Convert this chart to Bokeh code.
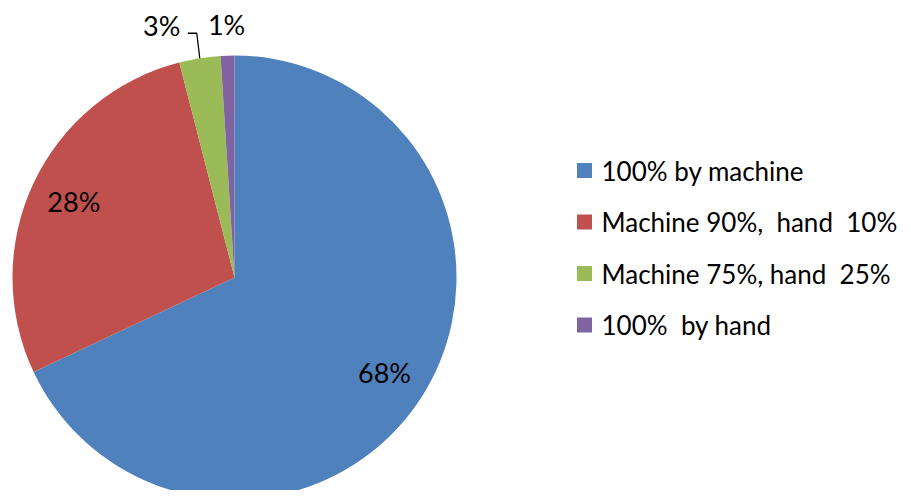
import numpy as np
from bokeh.plotting import figure
from bokeh.models import ColumnDataSource
from bokeh.core.properties import value
from bokeh.embed import file_html
from bokeh.resources import INLINE

categories = ["100% by machine", "Machine 90%,  hand  10%", "Machine 75%, hand  25%", "100%  by hand"]
shares = [68, 28, 3, 1]
labels = ["68%", "28%", "3%", "1%"]
colors = ["#4F81BD", "#C0504D", "#9BBB59", "#8064A2"]

FONT = "Lato"
FS_LEG = "26px"
FS_LAB = "27px"

W, H = 903, 490
# data coordinates: x = page x, y = 498 - page y (picture starts at figure origin)
p = figure(width=W, height=H, x_range=(0, W), y_range=(498 - H, 498),
           output_backend="svg", toolbar_location=None, min_border=0)
p.axis.visible = False
p.grid.visible = False
p.outline_line_color = None
p.background_fill_color = "white"
p.border_fill_color = "white"

cx, cy, r = 234, 498 - 277, 222
frac = np.array(shares, dtype=float) / sum(shares)
cum = np.concatenate([[0], np.cumsum(frac)])
start = np.pi / 2 - cum[:-1] * 2 * np.pi
end = np.pi / 2 - cum[1:] * 2 * np.pi
mid = (start + end) / 2

src = ColumnDataSource(dict(start=start, end=end, color=colors, cat=categories))
p.wedge(x=cx, y=cy, radius=r, start_angle="start", end_angle="end", direction="clock",
        fill_color="color", line_color=None, source=src)

# inside labels for large slices
inside = [0, 1]
p.text(x=[cx + 0.8 * r * np.cos(mid[i]) for i in inside],
       y=[cy + 0.8 * r * np.sin(mid[i]) for i in inside],
       text=[labels[i] for i in inside], text_align="center", text_baseline="middle",
       text_font=value(FONT), text_font_size=FS_LAB, text_color="black")

# outside labels for small slices
g = 2
ex, ey = cx + r * np.cos(mid[g]), cy + r * np.sin(mid[g])
p.line(x=[ex, ex - 3, ex - 12], y=[ey, ey + 25, ey + 25], line_color="black", line_width=1.3)
p.text(x=[ex - 38], y=[ey + 33], text=[labels[g]], text_align="center", text_baseline="middle",
       text_font=value(FONT), text_font_size=FS_LAB, text_color="black")
pu = 3
ux, uy = cx + r * np.cos(mid[pu]), cy + r * np.sin(mid[pu])
p.text(x=[ux - 1], y=[uy + 31], text=[labels[pu]], text_align="center", text_baseline="middle",
       text_font=value(FONT), text_font_size=FS_LAB, text_color="black")

# legend (keep the double spaces visible in SVG)
shown = [c.replace("  ", " \u00a0") for c in categories]
ly = [498 - 170 - 51.5 * i for i in range(len(categories))]
p.rect(x=[584] * 4, y=ly, width=15, height=15, fill_color=colors, line_color=None)
p.text(x=[601] * 4, y=ly, text=shown, text_align="left", text_baseline="middle",
       text_font=value(FONT), text_font_size=FS_LEG, text_color="black")

open("out.html", "w").write(file_html(p, INLINE))
